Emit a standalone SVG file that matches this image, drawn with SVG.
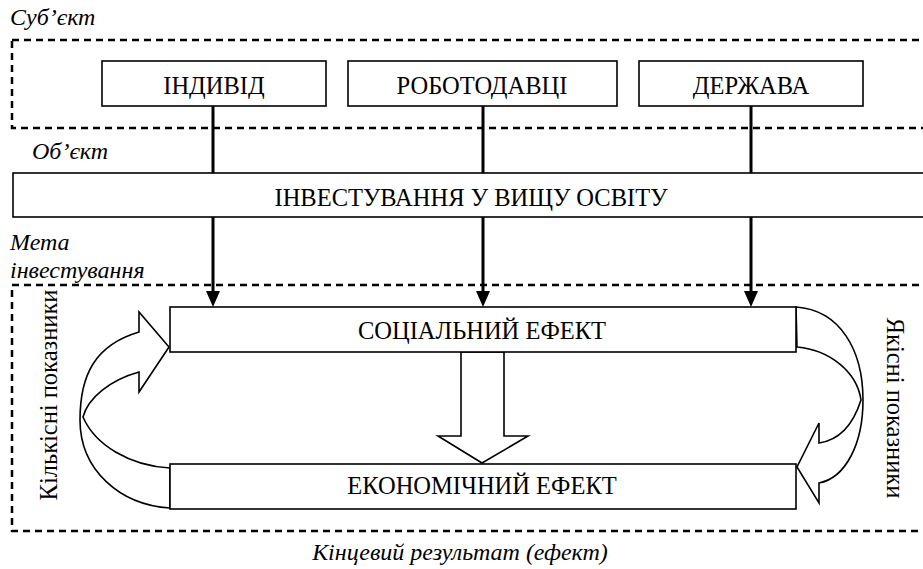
<svg xmlns="http://www.w3.org/2000/svg" width="923" height="569" viewBox="0 0 923 569">
  <style>
    .frame { fill: none; stroke: #000; stroke-width: 2.5; stroke-dasharray: 7 5; }
    .box { fill: #fff; stroke: #000; stroke-width: 1.6; }
    .link { fill: none; stroke: #000; stroke-width: 3; }
    .head { fill: #000; stroke: none; }
    .bend { fill: #fff; stroke: #000; stroke-width: 1.6; stroke-linejoin: miter; }
    .lbl { font-family: "Liberation Serif", "Times New Roman", serif; fill: #000; text-anchor: middle; font-size: 24.5px; }
    .cap { font-family: "Liberation Serif", "Times New Roman", serif; font-style: italic; fill: #000; font-size: 24px; }
  </style>

  <!-- zone frames and their captions -->
  <g id="zones">
    <rect class="frame" x="12" y="40" width="930" height="88"/>
    <rect class="frame" x="12" y="285" width="930" height="246"/>
    <text class="cap" x="10" y="25">Суб’єкт</text>
    <text class="cap" x="32" y="159">Об’єкт</text>
    <text class="cap" x="10" y="250">Мета</text>
    <text class="cap" x="10" y="278">інвестування</text>
    <text class="cap" x="460" y="560" text-anchor="middle">Кінцевий результат (ефект)</text>
  </g>

  <!-- connectors -->
  <g id="connectors">
    <line class="link" x1="213" y1="106" x2="213" y2="173"/>
    <line class="link" x1="483" y1="106" x2="483" y2="173"/>
    <line class="link" x1="751" y1="106" x2="751" y2="173"/>
    <line class="link" x1="213" y1="217" x2="213" y2="294"/>
    <line class="link" x1="483" y1="217" x2="483" y2="294"/>
    <line class="link" x1="751" y1="217" x2="751" y2="294"/>
    <polygon class="head" points="206,291 220,291 213,307"/>
    <polygon class="head" points="476,291 490,291 483,307"/>
    <polygon class="head" points="744,291 758,291 751,307"/>
    <!-- block arrow: social to economic -->
    <polygon class="bend" points="461,352 504,352 504,436 528,436 482,463 438,436 461,436"/>
    <!-- curved block arrow, left side (economic back up to social) -->
    <path class="bend" d="M170,508 C120,505 80,470 80,420 C80,375 95,345 139,332 L139,312 L169,347 L139,392 L139,372 C110,380 88,398 83,417 C95,445 130,466 170,468 Z"/>
    <!-- curved block arrow, right side (social down to economic) -->
    <path class="bend" d="M796,307 C840,310 863,350 863,400 C863,445 845,478 819,483 L819,503 L797,467 L819,423 L819,443 C840,440 853,425 861,400 C857,372 830,350 797,347 Z"/>
  </g>

  <g id="individ">
    <rect class="box" x="102" y="61" width="224" height="45"/>
    <text class="lbl" x="214" y="94">ІНДИВІД</text>
  </g>
  <g id="employers">
    <rect class="box" x="348" y="61" width="269" height="45"/>
    <text class="lbl" x="482" y="94">РОБОТОДАВЦІ</text>
  </g>
  <g id="state">
    <rect class="box" x="639" y="61" width="224" height="45"/>
    <text class="lbl" x="751" y="94">ДЕРЖАВА</text>
  </g>
  <g id="investment">
    <rect class="box" x="13" y="173" width="930" height="44"/>
    <text class="lbl" x="471" y="206">ІНВЕСТУВАННЯ У ВИЩУ ОСВІТУ</text>
  </g>
  <g id="social">
    <rect class="box" x="170" y="307" width="626" height="45"/>
    <text class="lbl" x="482" y="339">СОЦІАЛЬНИЙ ЕФЕКТ</text>
  </g>
  <g id="economic">
    <rect class="box" x="170" y="464" width="626" height="45"/>
    <text class="lbl" x="482" y="494" font-size="22">ЕКОНОМІЧНИЙ ЕФЕКТ</text>
  </g>

  <g id="side-labels">
    <text class="lbl" font-size="22" transform="translate(57,395) rotate(-90)">Кількісні показники</text>
    <text class="lbl" transform="translate(887,408) rotate(90)">Якісні показники</text>
  </g>
</svg>
